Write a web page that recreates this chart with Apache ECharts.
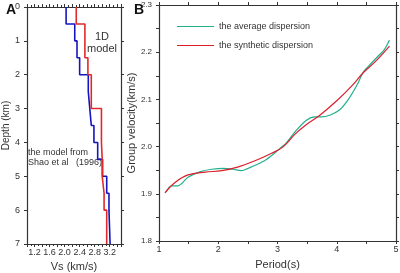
<!DOCTYPE html>
<html>
<head>
<meta charset="utf-8">
<script src="https://cdn.jsdelivr.net/npm/echarts@6/dist/echarts.min.js"></script>
<style>
  html, body { margin: 0; padding: 0; background: #fff; }
  #chart { width: 400px; height: 273px; }
</style>
</head>
<body>
<div id="chart"></div>
<script>
// panel A: layered Vs models (layer tops/bottoms in km, Vs in km/s)
const layerTops    = [0, 0.5, 1.0, 1.5, 2.0, 2.5, 3.0, 3.5, 4.0, 4.5, 5.0, 5.5, 6.0]
const layerBottoms = [0.5, 1.0, 1.5, 2.0, 2.5, 3.0, 3.5, 4.0, 4.5, 5.0, 5.5, 6.0, 7.0]
const vsShao       = [2.04, 2.27, 2.33, 2.40, 2.63, 2.67, 2.71, 2.78, 2.88, 3.01, 3.12, 3.18, 3.21]
const vs1D         = [2.31, 2.54, 2.54, 2.62, 2.71, 2.71, 2.98, 2.98, 3.00, 3.00, 3.05, 3.05, 3.12]

// panel B: dispersion curves
const avgPeriod = [1.12, 1.21, 1.32, 1.49, 1.70, 1.89, 2.09, 2.25, 2.39, 2.56, 2.78, 2.95, 3.05, 3.15, 3.32, 3.49, 3.63, 3.74, 3.89, 4.05, 4.19, 4.34, 4.45, 4.58, 4.70, 4.80, 4.89]
const avgVel    = [1.904, 1.917, 1.917, 1.935, 1.947, 1.952, 1.954, 1.952, 1.949, 1.957, 1.970, 1.986, 1.997, 2.008, 2.035, 2.056, 2.063, 2.063, 2.067, 2.078, 2.099, 2.130, 2.158, 2.176, 2.192, 2.205, 2.226]
const synPeriod = [1.10, 1.27, 1.49, 1.78, 2.06, 2.34, 2.62, 2.90, 3.10, 3.30, 3.50, 3.72, 4.00, 4.25, 4.45, 4.65, 4.89]
const synVel    = [1.902, 1.924, 1.940, 1.946, 1.949, 1.957, 1.970, 1.986, 2.000, 2.027, 2.048, 2.067, 2.097, 2.128, 2.157, 2.180, 2.213]

const vsLabels = ['1.2', '1.6', '2.0', '2.4', '2.8', '3.2']

const FONT = 'Liberation Sans, Arial, sans-serif'
const AXIS = '#333'

// build staircase points from layer table
function stepPoints(vs) {
  const pts = []
  vs.forEach((v, i) => {
    pts.push([v, layerTops[i]])
    pts.push([v, layerBottoms[i]])
  })
  return pts
}

function zip(a, b) {
  return a.map((x, i) => [x, b[i]])
}

function frameAxis(extra) {
  return Object.assign({
    axisLine: { show: true, onZero: false, lineStyle: { color: AXIS, width: 1.2 } },
    axisTick: { show: true, inside: false, length: 3, lineStyle: { color: AXIS } },
    splitLine: { show: false },
    axisLabel: { show: false },
    nameMoveOverlap: false
  }, extra)
}

const chart = echarts.init(document.getElementById('chart'))

const option = {
  animation: false,
  textStyle: { fontFamily: FONT },
  grid: [
    { left: 27, top: 7, width: 94, height: 237, outerBoundsMode: 'none', containLabel: false },
    { left: 159, top: 5, width: 237, height: 236, outerBoundsMode: 'none', containLabel: false }
  ],
  xAxis: [
    frameAxis({
      gridIndex: 0, type: 'value', min: 1.0, max: 3.5, interval: 0.2,
      position: 'bottom',
      minorTick: { show: true, splitNumber: 2, length: 2, lineStyle: { color: AXIS } },
      axisLabel: {
        show: true, fontSize: 9, color: '#333', margin: 4,
        formatter: v => {
          const s = v.toFixed(1)
          return vsLabels.includes(s) ? s : ''
        }
      },
      name: 'Vs (km/s)', nameLocation: 'middle', nameGap: 17,
      nameTextStyle: { fontSize: 11, color: '#333' }
    }),
    frameAxis({
      gridIndex: 0, type: 'value', min: 1.0, max: 3.5, interval: 0.2,
      position: 'top',
      minorTick: { show: true, splitNumber: 2, length: 2, lineStyle: { color: AXIS } }
    }),
    frameAxis({
      gridIndex: 1, type: 'value', min: 1, max: 5, interval: 1,
      position: 'bottom',
      minorTick: { show: true, splitNumber: 2, length: 3, lineStyle: { color: AXIS } },
      axisLabel: { show: true, fontSize: 9, color: '#333', margin: 4 },
      name: 'Period(s)', nameLocation: 'middle', nameGap: 18,
      nameTextStyle: { fontSize: 11, color: '#333' }
    }),
    frameAxis({
      gridIndex: 1, type: 'value', min: 1, max: 5, interval: 1,
      position: 'top',
      minorTick: { show: true, splitNumber: 2, length: 3, lineStyle: { color: AXIS } }
    })
  ],
  yAxis: [
    frameAxis({
      gridIndex: 0, type: 'value', min: 0, max: 7, interval: 1, inverse: true,
      position: 'left',
      axisLabel: { show: true, fontSize: 9, color: '#333', margin: 7 },
      name: 'Depth (km)', nameLocation: 'middle', nameGap: 16, nameRotate: 90,
      nameTextStyle: { fontSize: 10, color: '#333' }
    }),
    frameAxis({
      gridIndex: 0, type: 'value', min: 0, max: 7, interval: 1, inverse: true,
      position: 'right'
    }),
    frameAxis({
      gridIndex: 1, type: 'value', min: 1.8, max: 2.3, interval: 0.1,
      position: 'left',
      minorTick: { show: true, splitNumber: 2, length: 3, lineStyle: { color: AXIS } },
      axisLabel: { show: true, fontSize: 8, color: '#333', margin: 7, formatter: v => v.toFixed(1) },
      name: 'Group velocity(km/s)', nameLocation: 'middle', nameGap: 22, nameRotate: 90,
      nameTextStyle: { fontSize: 11, color: '#333' }
    }),
    frameAxis({
      gridIndex: 1, type: 'value', min: 1.8, max: 2.3, interval: 0.1,
      position: 'right',
      minorTick: { show: true, splitNumber: 2, length: 3, lineStyle: { color: AXIS } }
    })
  ],
  legend: {
    left: 177, top: 22, orient: 'vertical', itemGap: 10, padding: 0,
    itemWidth: 37, itemHeight: 10,
    icon: 'path://M0,5L38,5L38,6L0,6Z',
    textStyle: { fontSize: 9, color: '#333', fontFamily: FONT, padding: [0, 0, 0, 0] },
    data: ['the average dispersion', 'the synthetic dispersion']
  },
  series: [
    {
      name: 'Shao', type: 'line', xAxisIndex: 0, yAxisIndex: 0,
      data: stepPoints(vsShao), showSymbol: false,
      lineStyle: { color: '#1515c0', width: 1.6 }, z: 2
    },
    {
      name: '1D', type: 'line', xAxisIndex: 0, yAxisIndex: 0,
      data: stepPoints(vs1D), showSymbol: false,
      lineStyle: { color: '#e02a2a', width: 1.6 }, z: 3
    },
    {
      name: 'the average dispersion', type: 'line', xAxisIndex: 2, yAxisIndex: 2,
      data: zip(avgPeriod, avgVel), showSymbol: false, smooth: 0.3,
      itemStyle: { color: '#22b08c' },
      lineStyle: { color: '#22b08c', width: 1.2 }, z: 2
    },
    {
      name: 'the synthetic dispersion', type: 'line', xAxisIndex: 2, yAxisIndex: 2,
      data: zip(synPeriod, synVel), showSymbol: false, smooth: 0.4,
      itemStyle: { color: '#dc1f2d' },
      lineStyle: { color: '#dc1f2d', width: 1.2 }, z: 3
    }
  ],
  graphic: [
    { type: 'text', left: 6, top: 3, style: { text: 'A', font: 'bold 14px ' + FONT, fill: '#111' } },
    { type: 'text', left: 134, top: 3, style: { text: 'B', font: 'bold 14px ' + FONT, fill: '#111' } },
    { type: 'text', x: 102, y: 31, style: { text: '1D\nmodel', font: '11px ' + FONT, fill: '#333', align: 'center', lineHeight: 12 } },
    { type: 'text', left: 28, top: 148, style: { text: 'the model from\nShao et al   (1996)', font: '9px ' + FONT, fill: '#333', lineHeight: 10 } }
  ]
}

chart.setOption(option)
</script>
</body>
</html>
